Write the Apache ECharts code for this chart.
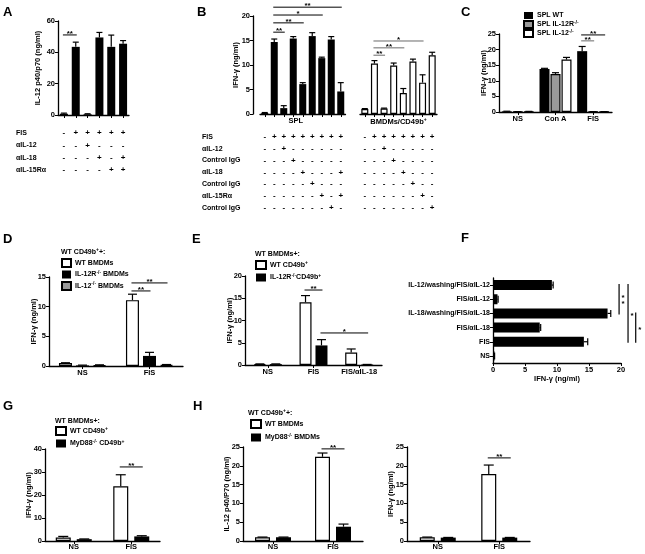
<!DOCTYPE html>
<html><head><meta charset="utf-8">
<script src="https://cdn.jsdelivr.net/npm/echarts@6/dist/echarts.min.js"></script>
<style>html,body{margin:0;padding:0;background:#fff}#c{width:645px;height:554px}</style>
</head><body><div id="c"></div>
<script>
// ================= DATA =================
// Panel A
const aCategories = ['1','2','3','4','5','6'];
const aValues = [0.8, 43.5, 0.5, 49.5, 43.5, 45.5];
const aErrors = [0.4, 3.0, 0.3, 3.2, 7.5, 2.0];
const aRowLabels = ['FIS', 'αIL-12', 'αIL-18', 'αIL-15Rα'];
const aTable = ['-+++++', '--+---', '---+-+', '----++'];
const aSigs = [[0,0,1,0,51.1]];
const aSigText = ['**'];
// Panel B
const bSplCategories = ['1','2','3','4','5','6','7','8','9'];
const bSplValues = [0.2, 14.7, 1.2, 15.4, 6.1, 15.9, 11.4, 15.2, 4.6];
const bSplErrors = [0.1, 0.6, 0.5, 0.4, 0.3, 0.7, 0.2, 0.6, 1.8];
const bBmdmCategories = ['1','2','3','4','5','6','7','8'];
const bBmdmValues = [1.0, 10.3, 1.1, 9.9, 4.3, 10.7, 6.4, 12.0];
const bBmdmErrors = [0.1, 0.6, 0.1, 0.5, 0.9, 0.5, 1.6, 0.6];
const bRowLabels = ['FIS','αIL-12','Control IgG','αIL-18','Control IgG','αIL-15Rα','Control IgG'];
const bSplTable = ['-++++++++','--+------','---+-----','----+---+','-----+---','------+-+','-------+-'];
const bBmdmTable = ['-+++++++','--+-----','---+----','----+---','-----+--','------+-','-------+'];
const bSplSigs = [[1,0,2,0,16.7],[1,0,4,0,18.6],[1,0,6,0,20.2],[1,0,8,0,21.8]];
const bSplSigText = ['**','**','*','**'];
const bBmdmSigs = [[1,0,2,0,12.0],[1,0,4,0,13.5],[1,0,6,0,14.9]];
const bBmdmSigText = ['**','**','*'];
// Panel C
const cCategories = ['NS','Con A','FIS'];
const cWT = [0.2, 13.8, 19.5];          const cWTErr = [0.05, 0.2, 1.5];
const cIL12R = [0.1, 12.2, 0.1];        const cIL12RErr = [0.03, 0.4, 0.03];
const cIL12 = [0.15, 16.8, 0.1];        const cIL12Err = [0.05, 0.7, 0.03];
const cSigs = [[2,0,2,2,24.7],[2,0,2,1,22.8]];
const cSigText = ['**','**'];
// Panel D
const dCategories = ['NS','FIS'];
const dWT = [0.5, 11.1];      const dWTErr = [0.05, 1.0];
const dIL12R = [0.1, 1.7];    const dIL12RErr = [0.05, 0.6];
const dIL12 = [0.15, 0.2];    const dIL12Err = [0.05, 0.05];
const dSigs = [[1,0,1,2,14.0],[1,0,1,1,12.65]];
const dSigText = ['**','**'];
// Panel E
const eCategories = ['NS','FIS','FIS/αIL-18'];
const eWT = [0.2, 14.1, 2.8];      const eWTErr = [0.05, 1.5, 0.8];
const eIL12R = [0.2, 4.4, 0.1];    const eIL12RErr = [0.05, 1.3, 0.03];
const eSigs = [[1,0,1,1,16.85],[1,1,2,1,7.2]];
const eSigText = ['**','*'];
// Panel F
const fCategories = ['IL-12/washing/FIS/αIL-12','FIS/αIL-12','IL-18/washing/FIS/αIL-18','FIS/αIL-18','FIS','NS'];
const fValues = [9.2, 0.7, 17.9, 7.3, 14.2, 0.2];
const fErrors = [0.2, 0.1, 0.5, 0.15, 0.6, 0.05];
const fSigs = [[0,2,19.7],[0,4,21.1],[2,4,22.3]];
const fSigText = ['*\n*','*','*'];
// Panel G
const gCategories = ['NS','FIS'];
const gWT = [1.5, 23.8];     const gWTErr = [0.5, 5.0];
const gMyD88 = [0.8, 2.0];   const gMyD88Err = [0.1, 0.3];
const gSigs = [[1,0,1,1,32.2]];
const gSigText = ['**'];
// Panel H
const hCategories = ['NS','FIS'];
const h1WT = [1.0, 22.4];     const h1WTErr = [0.05, 1.0];
const h1MyD88 = [1.0, 3.8];   const h1MyD88Err = [0.05, 0.7];
const h2WT = [1.0, 17.8];     const h2WTErr = [0.05, 2.4];
const h2MyD88 = [0.9, 0.9];   const h2MyD88Err = [0.05, 0.05];
const h1Sigs = [[1,0,1,1,24.5]];
const h2Sigs = [[1,0,1,1,22.1]];
const hSigText = ['**'];

// ================= HELPERS =================
const FONT = '"Liberation Sans", Arial, sans-serif';
const RICH = { sup: { fontFamily: FONT, fontWeight: 'bold', fontSize: 5, color: '#000', verticalAlign: 'top', lineHeight: 9 } };
function ts(size, extra) { return Object.assign({ fontFamily: FONT, fontWeight: 'bold', fontSize: size, color: '#000' }, extra || {}); }
const AX_LINE = { show: true, lineStyle: { color: '#000', width: 1.3 } };
const AX_TICK = { show: true, length: 3, lineStyle: { color: '#000', width: 1 } };

function catX(grid, cats, label, extra) {
  return Object.assign({ type: 'category', gridIndex: grid, data: cats, axisLine: AX_LINE,
    axisTick: { show: true, length: 3, alignWithLabel: true, interval: 0, lineStyle: { color: '#000', width: 1 } },
    axisLabel: Object.assign({ interval: 0, margin: 3 }, ts(7.5), label || {}),
    splitLine: { show: false } }, extra || {});
}
function valAx(grid, min, max, interval, name, nameGap, extra) {
  return Object.assign({ type: 'value', gridIndex: grid, min, max, interval, name, nameLocation: 'middle', nameGap,
    nameMoveOverlap: false,
    nameTextStyle: ts(7.5, { rich: RICH }), axisLine: AX_LINE, axisTick: AX_TICK,
    axisLabel: Object.assign({ margin: 3 }, ts(7.5)), splitLine: { show: false } }, extra || {});
}
function bars(name, grid, values, color, width, gap) {
  return { type: 'bar', name, xAxisIndex: grid, yAxisIndex: grid, data: values, barWidth: width, barGap: gap,
    silent: true, itemStyle: { color, borderColor: '#000', borderWidth: color === '#000' ? 0 : 1.2 } };
}
function errBars(grid, values, errors, offset, cap, horizontal) {
  return { type: 'custom', xAxisIndex: grid, yAxisIndex: grid, silent: true, z: 5, clip: false,
    data: values.map((v, i) => [i, v, errors[i]]),
    encode: horizontal ? { x: 1, y: 0 } : { x: 0, y: 1 },
    renderItem(params, api) {
      const i = api.value(0), v = api.value(1), e = api.value(2);
      const st = { stroke: '#000', lineWidth: 1.2 };
      if (!horizontal) {
        const p0 = api.coord([i, v]), p1 = api.coord([i, v + e]);
        const x = p0[0] + offset;
        return { type: 'group', children: [
          { type: 'line', shape: { x1: x, y1: p0[1], x2: x, y2: p1[1] }, style: st },
          { type: 'line', shape: { x1: x - cap, y1: p1[1], x2: x + cap, y2: p1[1] }, style: st }] };
      }
      const p0 = api.coord([v, i]), p1 = api.coord([v + e, i]);
      const y = p0[1] + offset;
      return { type: 'group', children: [
        { type: 'line', shape: { x1: p0[0], y1: y, x2: p1[0], y2: y }, style: st },
        { type: 'line', shape: { x1: p1[0], y1: y - cap, x2: p1[0], y2: y + cap }, style: st }] };
    } };
}
function sigLines(grid, items, labels, offsets, colors) {
  return { type: 'custom', xAxisIndex: grid, yAxisIndex: grid, silent: true, z: 6, clip: false,
    data: items, encode: { x: 0, y: 4 },
    renderItem(params, api) {
      const c1 = api.value(0), s1 = api.value(1), c2 = api.value(2), s2 = api.value(3), y = api.value(4);
      const a = api.coord([c1, y]), b = api.coord([c2, y]);
      const x1 = a[0] + offsets[s1] - 1, x2 = b[0] + offsets[s2] + 1;
      const col = colors ? colors[params.dataIndex] : '#000';
      return { type: 'group', children: [
        { type: 'line', shape: { x1, y1: a[1], x2, y2: a[1] }, style: { stroke: col, lineWidth: 1 } },
        { type: 'text', x: (x1 + x2) / 2, y: a[1] + 3, style: { text: labels[params.dataIndex], fill: '#000',
          fontFamily: FONT, fontWeight: 'bold', fontSize: 8, align: 'center', verticalAlign: 'bottom' } }] };
    } };
}
function sigVertical(grid, items, labels) {
  return { type: 'custom', xAxisIndex: grid, yAxisIndex: grid, silent: true, z: 6, clip: false,
    data: items, encode: { x: 2, y: 0 },
    renderItem(params, api) {
      const c1 = api.value(0), c2 = api.value(1), xv = api.value(2);
      const a = api.coord([xv, c1]), b = api.coord([xv, c2]);
      const y1 = a[1] - 1, y2 = b[1] + 1;
      return { type: 'group', children: [
        { type: 'line', shape: { x1: a[0], y1, x2: a[0], y2 }, style: { stroke: '#000', lineWidth: 1.2 } },
        { type: 'text', x: a[0] + 2.5, y: (y1 + y2) / 2 + 2, style: { text: labels[params.dataIndex], fill: '#000',
          fontFamily: FONT, fontWeight: 'bold', fontSize: 8, lineHeight: 6, align: 'left', verticalAlign: 'middle' } }] };
    } };
}
function tableFormatter(table) { return (v, idx) => table.map(r => r[idx]).join('\n'); }
function offsets(n, w, gapFrac) { const s = w * (1 + gapFrac); return Array.from({ length: n }, (_, i) => (i - (n - 1) / 2) * s); }
function gText(text, x, y, size, extra) {
  return { type: 'text', x, y, silent: true, style: Object.assign({ text, fill: '#000', fontFamily: FONT, fontWeight: 'bold',
    fontSize: size, align: 'left', verticalAlign: 'middle', rich: RICH }, extra || {}) };
}
function legendBox(names, labels, left, top, iw, ih, gap) {
  return { data: names, left, top, orient: 'vertical', icon: 'rect', itemWidth: iw, itemHeight: ih, itemGap: gap, padding: 0,
    selectedMode: false, formatter: n => labels[names.indexOf(n)],
    textStyle: ts(7, { lineHeight: 9, padding: [0, 0, 0, -1], rich: RICH }) };
}

// ================= LAYOUT =================
const grids = [
  { left: 58, top: 21, width: 71, height: 94 },      // 0 A
  { left: 260, top: 16, width: 85.5, height: 98 },   // 1 B SPL
  { left: 360, top: 16, width: 77, height: 98 },     // 2 B BMDM
  { left: 499, top: 34, width: 113, height: 78 },    // 3 C
  { left: 49, top: 277, width: 134, height: 89 },    // 4 D
  { left: 245, top: 276, width: 137, height: 89 },   // 5 E
  { left: 493, top: 278, width: 128, height: 85 },   // 6 F
  { left: 45, top: 449, width: 115, height: 92 },    // 7 G
  { left: 243, top: 447, width: 120, height: 94 },   // 8 H1
  { left: 407, top: 447, width: 123, height: 94 }    // 9 H2
].map(g => Object.assign({ containLabel: false, outerBoundsMode: 'none' }, g));

const A_LH = 12.3, A_M = 12, B_LH = 11.8, B_M = 17;
const xAxes = [
  catX(0, aCategories, { margin: A_M, lineHeight: A_LH, fontSize: 8, formatter: tableFormatter(aTable) }),
  catX(1, bSplCategories, { margin: B_M, lineHeight: B_LH, fontSize: 8, formatter: tableFormatter(bSplTable) },
    { name: 'SPL', nameLocation: 'middle', nameGap: 3, nameMoveOverlap: false,
      nameTextStyle: ts(7.5, { verticalAlign: 'top', padding: [0, 14, 0, 0] }) }),
  catX(2, bBmdmCategories, { margin: B_M, lineHeight: B_LH, fontSize: 8, formatter: tableFormatter(bBmdmTable) },
    { name: 'BMDMs/CD49b{sup|+}', nameLocation: 'middle', nameGap: 3, nameMoveOverlap: false,
      nameTextStyle: ts(7.5, { verticalAlign: 'top', rich: RICH }) }),
  catX(3, cCategories, {}),
  catX(4, dCategories, {}),
  catX(5, eCategories, {}),
  valAx(6, 0, 20, 5, 'IFN-γ (ng/ml)', 12),
  catX(7, gCategories, { margin: 2 }),
  catX(8, hCategories, { margin: 2 }),
  catX(9, hCategories, { margin: 2 })
];
const yAxes = [
  valAx(0, 0, 60, 20, 'IL-12 p40/p70 (ng/ml)', 16),
  valAx(1, 0, 20, 5, 'IFN-γ (ng/ml)', 13, { offset: 7 }),
  valAx(2, 0, 20, 5, '', 0, { show: false }),
  valAx(3, 0, 25, 5, 'IFN-γ (ng/ml)', 11),
  valAx(4, 0, 15, 5, 'IFN-γ (ng/ml)', 11),
  valAx(5, 0, 20, 5, 'IFN-γ (ng/ml)', 11),
  { type: 'category', gridIndex: 6, data: fCategories, inverse: true, axisLine: AX_LINE,
    axisTick: { show: true, length: 3, alignWithLabel: true, interval: 0, lineStyle: { color: '#000' } },
    axisLabel: Object.assign({ interval: 0, margin: 3 }, ts(7)) },
  valAx(7, 0, 40, 10, 'IFN-γ (ng/ml)', 12),
  valAx(8, 0, 25, 5, 'IL-12 p40/P70 (ng/ml)', 12),
  valAx(9, 0, 25, 5, 'IFN-γ (ng/ml)', 12)
];

const W = '#fff', K = '#000', GR = '#9a9a9a';
const oC = offsets(3, 10, 0.1), oD = offsets(3, 13, 0.31), oE = offsets(2, 12, 0.33),
      oG = offsets(2, 15, 0.4), oH = offsets(2, 15, 0.4);

const series = [
  // A
  bars('A', 0, aValues, K, 8, '0%'), errBars(0, aValues, aErrors, 0, 3, false), sigLines(0, aSigs, aSigText, [0]),
  // B
  bars('B_SPL', 1, bSplValues, K, 7, '0%'), errBars(1, bSplValues, bSplErrors, 0, 3, false),
  sigLines(1, bSplSigs, bSplSigText, [0]),
  bars('B_BMDM', 2, bBmdmValues, W, 7, '0%'), errBars(2, bBmdmValues, bBmdmErrors, 0, 3, false),
  sigLines(2, bBmdmSigs, bBmdmSigText, [0], ['#6a6a6a', '#6a6a6a', '#6a6a6a']),
  // C
  bars('C_WT', 3, cWT, K, 10, '10%'), bars('C_IL12R', 3, cIL12R, GR, 10, '10%'), bars('C_IL12', 3, cIL12, W, 10, '10%'),
  errBars(3, cWT, cWTErr, oC[0], 3.5), errBars(3, cIL12R, cIL12RErr, oC[1], 3.5), errBars(3, cIL12, cIL12Err, oC[2], 3.5),
  sigLines(3, cSigs, cSigText, oC, ['#000', '#6a6a6a']),
  // D
  bars('D_WT', 4, dWT, W, 13, '31%'), bars('D_IL12R', 4, dIL12R, K, 13, '31%'), bars('D_IL12', 4, dIL12, GR, 13, '31%'),
  errBars(4, dWT, dWTErr, oD[0], 4.5), errBars(4, dIL12R, dIL12RErr, oD[1], 4.5), errBars(4, dIL12, dIL12Err, oD[2], 4.5),
  sigLines(4, dSigs, dSigText, oD),
  // E
  bars('E_WT', 5, eWT, W, 12, '33%'), bars('E_IL12R', 5, eIL12R, K, 12, '33%'),
  errBars(5, eWT, eWTErr, oE[0], 4.5), errBars(5, eIL12R, eIL12RErr, oE[1], 4.5),
  sigLines(5, eSigs, eSigText, oE),
  // F
  bars('F', 6, fValues, K, 10, '0%'), errBars(6, fValues, fErrors, 0, 3.5, true), sigVertical(6, fSigs, fSigText),
  // G
  bars('G_WT', 7, gWT, W, 15, '40%'), bars('G_MyD88', 7, gMyD88, K, 15, '40%'),
  errBars(7, gWT, gWTErr, oG[0], 5), errBars(7, gMyD88, gMyD88Err, oG[1], 5),
  sigLines(7, gSigs, gSigText, oG),
  // H
  bars('H_WT', 8, h1WT, W, 15, '40%'), bars('H_MyD88', 8, h1MyD88, K, 15, '40%'),
  errBars(8, h1WT, h1WTErr, oH[0], 5), errBars(8, h1MyD88, h1MyD88Err, oH[1], 5),
  sigLines(8, h1Sigs, hSigText, oH),
  bars('H2_WT', 9, h2WT, W, 15, '40%'), bars('H2_MyD88', 9, h2MyD88, K, 15, '40%'),
  errBars(9, h2WT, h2WTErr, oH[0], 5), errBars(9, h2MyD88, h2MyD88Err, oH[1], 5),
  sigLines(9, h2Sigs, hSigText, oH)
];

const legends = [
  legendBox(['C_WT', 'C_IL12R', 'C_IL12'], ['SPL WT', 'SPL IL-12R{sup|-/-}', 'SPL IL-12{sup|-/-}'], 523, 11, 9, 7, 0),
  legendBox(['D_WT', 'D_IL12R', 'D_IL12'], ['WT BMDMs', 'IL-12R{sup|-/-} BMDMs', 'IL-12{sup|-/-} BMDMs'], 61, 258, 9, 8, 2),
  legendBox(['E_WT', 'E_IL12R'], ['WT CD49b{sup|+}', 'IL-12R{sup|-/-}CD49b{sup|+}'], 255, 260, 10, 8, 3),
  legendBox(['G_WT', 'G_MyD88'], ['WT CD49b{sup|+}', 'MyD88{sup|-/-} CD49b{sup|+}'], 55, 426, 10, 8, 3),
  legendBox(['H_WT', 'H_MyD88'], ['WT BMDMs', 'MyD88{sup|-/-} BMDMs'], 250, 419, 10, 8, 4)
];

const graphics = [
  gText('A', 3, 12, 13), gText('B', 197, 12, 13), gText('C', 461, 12, 13),
  gText('D', 3, 239, 13), gText('E', 192, 239, 13), gText('F', 461, 238, 13),
  gText('G', 3, 406, 13), gText('H', 193, 406, 13),
  gText('WT CD49b{sup|+}+:', 61, 252, 7), gText('WT BMDMs+:', 255, 254, 7),
  gText('WT BMDMs+:', 55, 421, 7), gText('WT CD49b{sup|+}+:', 248, 413, 7)
];
aRowLabels.forEach((t, k) => graphics.push(gText(t, 16, 115 + A_M + A_LH / 2 + k * A_LH, 7)));
bRowLabels.forEach((t, k) => graphics.push(gText(t, 202, 114 + B_M + B_LH / 2 + k * B_LH, 7)));

const chart = echarts.init(document.getElementById('c'), null, { renderer: 'canvas' });
chart.setOption({
  animation: false,
  backgroundColor: '#fff',
  textStyle: { fontFamily: FONT },
  grid: grids, xAxis: xAxes, yAxis: yAxes, series, legend: legends, graphic: graphics
});
</script></body></html>
